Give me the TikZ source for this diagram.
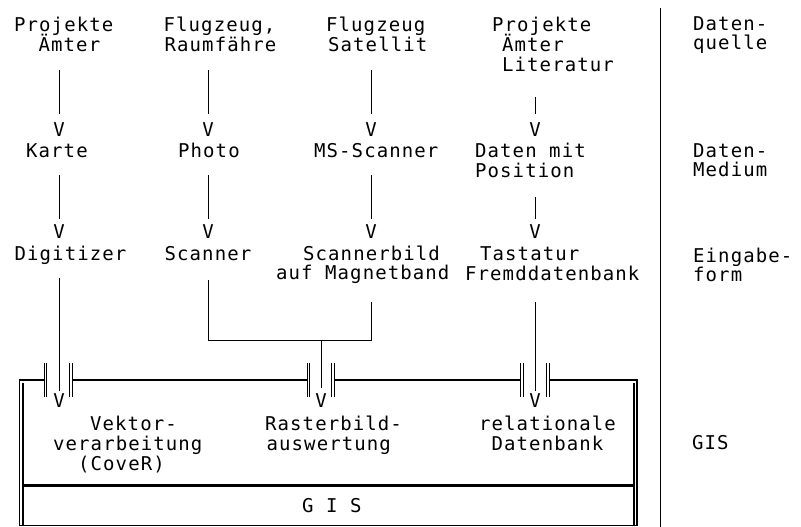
\documentclass[tikz,border=0pt]{standalone}
\usepackage{fontspec}
\usetikzlibrary{calc}
\newfontfamily\twfont[LetterSpace=5.7]{DejaVu Sans Mono}
\tikzset{
  tx/.style={font=\twfont\fontsize{19}{20}\selectfont, inner sep=0pt, anchor=base west},
  vv/.style={font=\twfont\fontsize{19}{20}\selectfont, inner sep=0pt, anchor=base},
  ln/.style={line width=0.9pt},
  thickedge/.style={line width=2.6pt},
  thinedge/.style={line width=1.1pt},
  gapmark/.style={line width=0.9pt}
}
\begin{document}
\begin{tikzpicture}[x=1pt,y=-1pt]
\useasboundingbox (0,0) rectangle (801,527);
% column 1
\node[tx] (p1a) at (14,32) {Projekte};
\node[tx] (p1b) at (38.5,52) {Ämter};
\node[tx] (karte) at (26,157) {Karte};
\node[tx] (digit) at (14.5,260) {Digitizer};
% column 2
\node[tx] (f2a) at (163.5,32) {Flugzeug,};
\node[tx] (f2b) at (164.5,52) {Raumfähre};
\node[tx] (photo) at (178,157) {Photo};
\node[tx] (scan2) at (164.5,260) {Scanner};
% column 3
\node[tx] (f3a) at (326,32) {Flugzeug};
\node[tx] (f3b) at (328,52) {Satellit};
\node[tx] (ms) at (314,157) {MS-Scanner};
\node[tx] (sb) at (303,260) {Scannerbild};
\node[tx] (mag) at (276,279) {auf Magnetband};
% column 4
\node[tx] (p4a) at (492,32) {Projekte};
\node[tx] (p4b) at (502,52) {Ämter};
\node[tx] (p4c) at (502,72) {Literatur};
\node[tx] (dm) at (475,157) {Daten mit};
\node[tx] (pos) at (475,177) {Position};
\node[tx] (tast) at (480,260) {Tastatur};
\node[tx] (fremd) at (465,280) {Fremddatenbank};
% right labels
\node[tx] (r1a) at (693,31) {Daten-};
\node[tx] (r1b) at (693,50) {quelle};
\node[tx] (r2a) at (693,157) {Daten-};
\node[tx] (r2b) at (693,176) {Medium};
\node[tx] (r3a) at (693,262) {Eingabe-};
\node[tx] (r3b) at (693,281) {form};
\node[tx] (r4) at (692,449) {GIS};
% box texts
\node[tx] (vek) at (90,430) {Vektor-};
\node[tx] (verar) at (53,450) {verarbeitung};
\node[tx] (cover) at (78,470) {(CoveR)};
\node[tx] (rast) at (265,430) {Rasterbild-};
\node[tx] (ausw) at (266.5,450) {auswertung};
\node[tx] (rel) at (479,430) {relationale};
\node[tx] (db) at (491.5,450) {Datenbank};
\node[tx] (gis) at (302,512) {G I S};
% V arrow heads
\node[vv] (v1a) at (59,136) {V};
\node[vv] (v1b) at (59,238) {V};
\node[vv] (v1c) at (59,407) {V};
\node[vv] (v2a) at (208,136) {V};
\node[vv] (v2b) at (208,238) {V};
\node[vv] (v3a) at (371,136) {V};
\node[vv] (v3b) at (371,238) {V};
\node[vv] (vm) at (321,407) {V};
\node[vv] (v4a) at (535,136) {V};
\node[vv] (v4b) at (535,238) {V};
\node[vv] (v4c) at (535,407) {V};
% connectors
\draw[ln] ($(p1b.base -| v1a.north)+(0,18)$) -- ($(v1a.north)+(0,-7.5)$);
\draw[ln] ($(karte.base -| v1b.north)+(0,18)$) -- ($(v1b.north)+(0,-4.5)$);
\draw[ln] ($(digit.base -| v1c.north)+(0,18)$) -- ($(v1c.north)+(0,-1.5)$);
\draw[ln] ($(f2b.base -| v2a.north)+(0,18)$) -- ($(v2a.north)+(0,-7.5)$);
\draw[ln] ($(photo.base -| v2b.north)+(0,18)$) -- ($(v2b.north)+(0,-4.5)$);
\draw[ln] ($(f3b.base -| v3a.north)+(0,18)$) -- ($(v3a.north)+(0,-7.5)$);
\draw[ln] ($(ms.base -| v3b.north)+(0,18)$) -- ($(v3b.north)+(0,-4.5)$);
\draw[ln] ($(p4c.base -| v4a.north)+(0,25)$) -- ($(v4a.north)+(0,-7.5)$);
\draw[ln] ($(pos.base -| v4b.north)+(0,20)$) -- ($(v4b.north)+(0,-4.5)$);
\draw[ln] ($(fremd.base -| v4c.north)+(0,22)$) -- ($(v4c.north)+(0,-1.5)$);
\coordinate (jn) at ($(vm.north)+(0,-52.5)$);
\draw[ln] ($(scan2.base -| v2b.north)+(0,20)$) |- (jn) -| ($(mag.base -| v3b.north)+(0,23)$);
\draw[ln] (jn) -- ($(vm.north)+(0,-5)$);
% separator
\draw[line width=1pt] (660,8) -- (660,527);
% GIS box
\draw[thinedge] (19.5,379) -- (19.5,526);
\draw[thinedge] (23,383) -- (23,526);
\draw[thinedge] (637,379) -- (637,526);
\draw[thinedge] (634,383) -- (634,526);
\draw[thinedge] (19,525.5) -- (637.5,525.5);
\draw[thickedge] (18.9,380) -- (44.5,380);
\draw[thickedge] (72,380) -- (307.3,380);
\draw[thickedge] (334.3,380) -- (520.7,380);
\draw[thickedge] (549.3,380) -- (637.6,380);
\draw[thickedge] (23,485.5) -- (634,485.5);
% gap marks
\foreach \gx in {44.3,46.9,69.5,72.1,307.3,309.9,331.7,334.3,520.7,523.3,546.7,549.3}
  \draw[gapmark] (\gx,363) -- (\gx,397);
\end{tikzpicture}
\end{document}
